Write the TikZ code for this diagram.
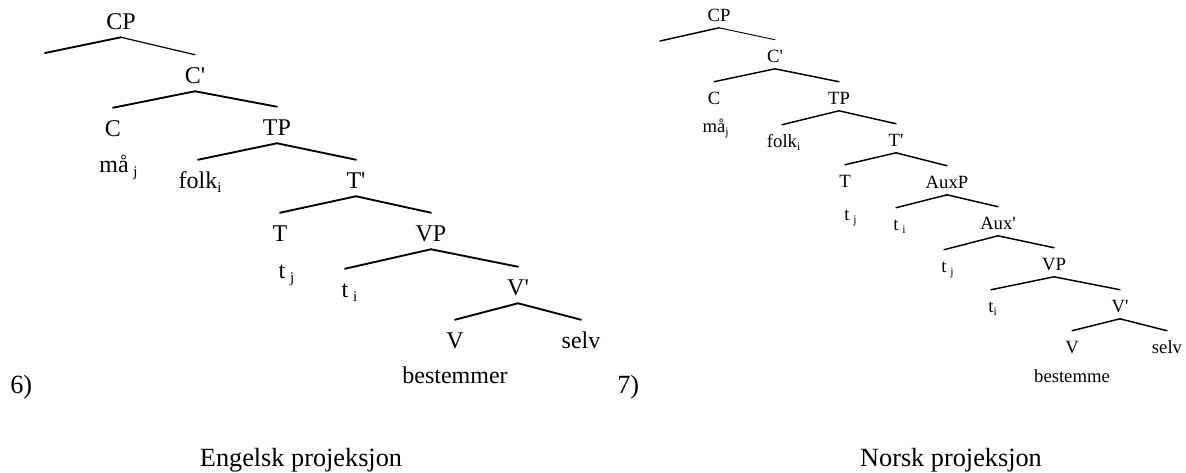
\documentclass[tikz,border=0pt]{standalone}
\usepackage{fontspec}
\usepackage{graphicx}
\setmainfont{Liberation Serif}

% indeks etter et ord, uten at noden blir bredere
\newcommand\low[1]{\raisebox{-0.2em}{\scalebox{0.62}{#1}}}
\newcommand\idx[1]{\rlap{\low{#1}}}
\newcommand\sidx[1]{\rlap{\hspace{0.2em}\low{#1}}}
\newcommand\prm{\textquotesingle}

\tikzset{
  labE/.style={anchor=base, inner sep=0pt,
    text height=21pt, text depth=6pt,
    font=\fontsize{18}{20}\selectfont},
  labN/.style={anchor=base, inner sep=0pt,
    text height=16.5pt, text depth=4.9pt,
    font=\fontsize{14}{16}\selectfont},
  branchE/.style={line width=1.4pt},
  branchN/.style={line width=1.1pt},
  caption/.style={anchor=base, inner sep=0pt,
    font=\fontsize{19.7}{22}\selectfont}
}

\begin{document}
\begin{tikzpicture}[
  x=0.75pt,
  y=-0.75pt,
  line cap=round,
  line join=round
]
  \useasboundingbox (0,0) rectangle (1186,472);

  % Engelsk tre
  \node[labE] (cpE)    at (121,29)  {CP};
  \coordinate (cpspecE) at (45,53);
  \node[labE] (cbarE)  at (195,83)  {C\prm};
  \node[labE] (cE)     at (113,136) {C};
  \node[labE] (maE)    at (114,172) {må\sidx{j}};
  \node[labE] (tpE)    at (277,135) {TP};
  \node[labE] (folkE)  at (198,188) {folk\idx{i}};
  \node[labE] (tbarE)  at (356,188) {T\prm};
  \node[labE] (tE)     at (280,241) {T};
  \node[labE] (tjE)    at (282,278) {t\sidx{j}};
  \node[labE] (vpE)    at (431,241) {VP};
  \node[labE] (tiE)    at (345,297) {t\sidx{i}};
  \node[labE] (vbarE)  at (518,295) {V\prm};
  \node[labE] (vE)     at (455,348) {V};
  \node[labE] (selvE)  at (581,348) {selv};
  \node[labE] (bestE)  at (455,383) {bestemmer};

  \draw[branchE] (cpE.south) -- (cpspecE);
  \draw[line width=0.9pt] (cpE.south) -- (cbarE.north);
  \foreach \a/\b in {cbarE/cE, cbarE/tpE, tpE/folkE, tpE/tbarE,
                     tbarE/tE, tbarE/vpE, vpE/tiE, vpE/vbarE,
                     vbarE/vE, vbarE/selvE}
    \draw[branchE] (\a.south) -- (\b.north);

  % Norsk tre
  \node[labN] (cpN)     at (719,21)   {CP};
  \coordinate (cpspecN) at (660,41);
  \node[labN] (cbarN)   at (775,62)   {C\prm};
  \node[labN] (cN)      at (714,104)  {C};
  \node[labN] (maN)     at (714,132)  {må\idx{j}};
  \node[labN] (tpN)     at (839,104)  {TP};
  \node[labN] (folkN)   at (782,147)  {folk\idx{i}};
  \node[labN] (tbarN)   at (896,146)  {T\prm};
  \node[labN] (tN)      at (845,187)  {T};
  \node[labN] (tjN)     at (847,220)  {t\sidx{j}};
  \node[labN] (auxpN)   at (947,188)  {AuxP};
  \node[labN] (tiaN)    at (896,230)  {t\sidx{i}};
  \node[labN] (auxbarN) at (998,229)  {Aux\prm};
  \node[labN] (tjbN)    at (944,272)  {t\sidx{j}};
  \node[labN] (vpN)     at (1054,270) {VP};
  \node[labN] (tibN)    at (991,312)  {t\idx{i}};
  \node[labN] (vbarN)   at (1120,312) {V\prm};
  \node[labN] (vN)      at (1072,353) {V};
  \node[labN] (selvN)   at (1167,353) {selv};
  \node[labN] (bestN)   at (1072,382) {bestemme};

  \draw[branchN] (cpN.south) -- (cpspecN);
  \draw[line width=0.7pt] (cpN.south) -- (cbarN.north);
  \foreach \a/\b in {cbarN/cN, cbarN/tpN, tpN/folkN, tpN/tbarN,
                     tbarN/tN, tbarN/auxpN, auxpN/tiaN, auxpN/auxbarN,
                     auxbarN/tjbN, auxbarN/vpN, vpN/tibN, vpN/vbarN,
                     vbarN/vN, vbarN/selvN}
    \draw[branchN] (\a.south) -- (\b.north);

  % Nummer og undertekster
  \node[caption, anchor=base west] (nrE) at (10,393)  {6)};
  \node[caption, anchor=base west] (nrN) at (617,393) {7)};
  \node[caption] (capE) at (301,466) {Engelsk projeksjon};
  \node[caption] (capN) at (951,466) {Norsk projeksjon};
\end{tikzpicture}
\end{document}
